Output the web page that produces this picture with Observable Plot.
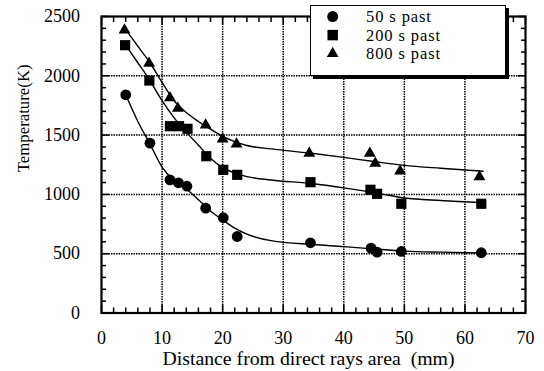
<!DOCTYPE html>
<html><head><meta charset="utf-8">
<script src="https://cdn.jsdelivr.net/npm/d3@7"></script>
<script src="https://cdn.jsdelivr.net/npm/@observablehq/plot@0.6"></script>
<style>
body{margin:0;background:#fff;}
#wrap{position:relative;width:544px;height:371px;font-family:"Liberation Serif","Times New Roman",serif;}
#legend{position:absolute;left:310px;top:5px;width:194px;height:69px;border:1px solid #000;background:#fff;box-shadow:3px 3px 0 #000;}
#legend text{font-family:"Liberation Serif","Times New Roman",serif;font-size:16.5px;letter-spacing:0.9px;}
</style></head><body><div id="wrap"></div>
<script>
// ---- data ----
const seriesNames = ["50 s past", "200 s past", "800 s past"];
const seriesSymbols = ["circle", "square", "triangle"];

const dist50  = [4.0, 8.0, 11.3, 12.7, 14.1, 17.2, 20.1, 22.4, 34.5, 44.5, 45.5, 49.5, 62.7];
const temp50  = [1840, 1432, 1123, 1098, 1069, 884, 803, 645, 592, 547, 513, 519, 508];
const dist200 = [3.9, 7.9, 11.3, 12.8, 14.2, 17.3, 20.1, 22.4, 34.5, 44.4, 45.5, 49.5, 62.7];
const temp200 = [2258, 1960, 1575, 1575, 1553, 1322, 1207, 1165, 1103, 1039, 1005, 921, 921];
const dist800 = [3.8, 7.85, 11.3, 12.6, 17.2, 20.0, 22.3, 34.3, 44.3, 45.2, 49.3, 62.4];
const temp800 = [2385, 2105, 1815, 1725, 1585, 1467, 1425, 1346, 1346, 1262, 1197, 1149];

// fitted curves as drawn in the reference (sampled by eye)
const fitDist = [4, 6, 8, 10, 12, 14, 16, 18, 20, 22, 24, 28, 35, 40, 45, 50, 56, 63];
const fit50   = [1840, 1615, 1425, 1230, 1115, 1045, 955, 860, 785, 715, 665, 610, 577, 560, 540, 522, 513, 506];
const fit200  = [2258, 2110, 1960, 1790, 1645, 1525, 1415, 1305, 1225, 1180, 1150, 1122, 1090, 1055, 1015, 970, 948, 930];
const fit800  = [2390, 2250, 2110, 1945, 1790, 1690, 1615, 1550, 1490, 1445, 1412, 1384, 1345, 1312, 1277, 1245, 1220, 1195];

const xTicks = [0, 10, 20, 30, 40, 50, 60, 70];
const yTicks = [0, 500, 1000, 1500, 2000, 2500];
const xGrid = [10, 20, 30, 40, 50, 60];
const yGrid = [500, 1000, 1500, 2000];
const xMinor = d3.range(0, 71, 2).filter(d => d % 10 !== 0);
const yMinor = d3.range(0, 2501, 100).filter(d => d % 500 !== 0);

const xLabel = "Distance from direct rays area\u00a0 (mm)";
const yLabel = "Temperature(K)";

// ---- build tables ----
const dists = [dist50, dist200, dist800];
const temps = [temp50, temp200, temp800];
const fits = [fit50, fit200, fit800];
const points = seriesNames.flatMap((s, i) => dists[i].map((d, j) => ({series: s, x: d, y: temps[i][j]})));
const curves = seriesNames.flatMap((s, i) => fitDist.map((d, j) => ({series: s, x: d, y: fits[i][j]})));

const font = '"Liberation Serif","Times New Roman",serif';
const symR = {circle: 5.4, square: 5.75, triangle: 4.4};

const chart = Plot.plot({
  width: 544, height: 371,
  marginLeft: 101, marginRight: 19, marginTop: 16, marginBottom: 58.5,
  style: {fontFamily: font, fontSize: "18px", background: "white", color: "black"},
  x: {domain: [0, 70]},
  y: {domain: [0, 2500]},
  marks: [
    Plot.gridX({ticks: xGrid, stroke: "black", strokeOpacity: 1, strokeWidth: 1.5, strokeDasharray: "1.5,1"}),
    Plot.gridY({ticks: yGrid, stroke: "black", strokeOpacity: 1, strokeWidth: 1.5, strokeDasharray: "1.5,1"}),
    Plot.line(curves, {x: "x", y: "y", z: "series", curve: "monotone-x", stroke: "black", strokeWidth: 1.4}),
    Plot.frame({stroke: "black", strokeWidth: 2.2}),
    // inward major/minor ticks on all four sides
    Plot.axisX({ticks: xTicks, anchor: "bottom", tickSize: -8, tickFormat: () => "", label: null, strokeWidth: 1.5}),
    Plot.axisX({ticks: xMinor, anchor: "bottom", tickSize: -5, tickFormat: () => "", label: null, strokeWidth: 1.5}),
    Plot.axisX({ticks: xTicks, anchor: "top", tickSize: -8, tickFormat: () => "", label: null, strokeWidth: 1.5}),
    Plot.axisX({ticks: xMinor, anchor: "top", tickSize: -5, tickFormat: () => "", label: null, strokeWidth: 1.5}),
    Plot.axisY({ticks: yTicks, anchor: "left", tickSize: -8, tickFormat: () => "", label: null, strokeWidth: 1.5}),
    Plot.axisY({ticks: yMinor, anchor: "left", tickSize: -5, tickFormat: () => "", label: null, strokeWidth: 1.5}),
    Plot.axisY({ticks: yTicks, anchor: "right", tickSize: -8, tickFormat: () => "", label: null, strokeWidth: 1.5}),
    Plot.axisY({ticks: yMinor, anchor: "right", tickSize: -5, tickFormat: () => "", label: null, strokeWidth: 1.5}),
    // tick labels
    Plot.axisX({ticks: xTicks, anchor: "bottom", tickSize: 0, tickPadding: 18, tickFormat: d => String(d), label: null, fontSize: 18, fontFamily: font}),
    Plot.axisY({ticks: yTicks, anchor: "left", tickSize: 0, tickPadding: 21.5, tickFormat: d => String(d), label: null, fontSize: 18, fontFamily: font}),
    // axis titles
    Plot.text([xLabel], {frameAnchor: "bottom", dy: 45.5, dx: -5, lineAnchor: "middle", fontSize: 19.8, fontFamily: font, fill: "black", text: d => d}),
    Plot.text([yLabel], {frameAnchor: "left", dx: -78.3, dy: 7.5, rotate: -90, lineAnchor: "middle", fontSize: 16.8, fontFamily: font, fill: "black", text: d => d}),
    // data points
    Plot.dot(points, {x: "x", y: "y", symbol: "series", r: d => symR[seriesSymbols[seriesNames.indexOf(d.series)]], fill: "black", stroke: "none"})
  ],
  symbol: {domain: seriesNames, range: seriesSymbols},
  r: {type: "identity"}
});

const wrap = document.getElementById("wrap");
wrap.appendChild(chart);

// legend (overlay box with shadow, as in the reference)
const leg = document.createElement("div");
leg.id = "legend";
const ns = "http://www.w3.org/2000/svg";
const lsvg = document.createElementNS(ns, "svg");
lsvg.setAttribute("width", 194); lsvg.setAttribute("height", 69);
const symTypes = {circle: d3.symbolCircle, square: d3.symbolSquare, triangle: d3.symbolTriangle};
const symSize = {circle: 95, square: 110, triangle: 60};
const rowY = [10.6, 29.1, 47.6];
seriesNames.forEach((s, i) => {
  const p = document.createElementNS(ns, "path");
  const t = seriesSymbols[i];
  p.setAttribute("d", d3.symbol(symTypes[t], symSize[t])());
  p.setAttribute("transform", `translate(21.7,${rowY[i]})`);
  p.setAttribute("fill", "black");
  lsvg.appendChild(p);
  const tx = document.createElementNS(ns, "text");
  tx.setAttribute("x", 55); tx.setAttribute("y", rowY[i] + 5.4);
  tx.textContent = s;
  lsvg.appendChild(tx);
});
leg.appendChild(lsvg);
wrap.appendChild(leg);
</script></body></html>
